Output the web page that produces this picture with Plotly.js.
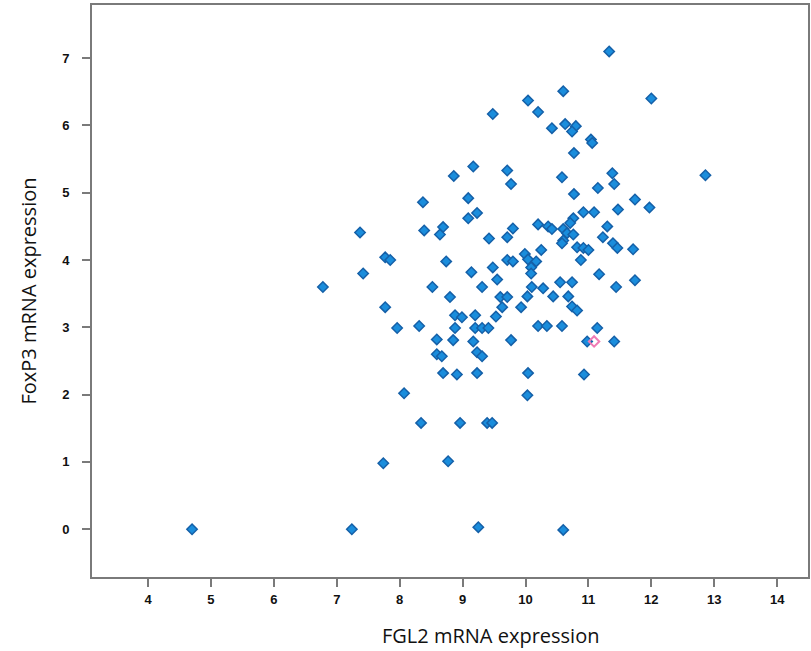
<!DOCTYPE html>
<html>
<head>
<meta charset="utf-8">
<script src="https://cdn.plot.ly/plotly-3.0.1.min.js"></script>
<style>html,body{margin:0;padding:0;background:#fff;}#chart{width:811px;height:651px;}</style>
</head>
<body>
<div id="chart"></div>
<script>
// FGL2 mRNA expression (x) vs FoxP3 mRNA expression (y)
const fgl2 = [
  11.33, 12.00, 10.60, 10.04, 10.20, 9.48, 10.42, 10.63, 10.80, 10.74,
  11.04, 11.06, 10.77, 10.58, 11.38, 11.41, 11.15, 10.77, 12.86, 11.74,
  11.97, 11.47, 10.92, 11.09, 10.76, 10.71, 10.20, 10.36, 10.42, 10.60,
  10.66, 10.76, 10.60, 10.58, 11.30, 11.23, 11.39, 11.46, 11.71, 10.82,
  10.92, 11.00, 10.88, 10.25, 9.99, 10.04, 10.17, 10.09, 10.09, 11.17,
  11.44, 11.74, 10.55, 10.74, 10.10, 10.28, 10.03, 10.44, 10.68, 10.74,
  10.82, 9.93, 10.20, 10.34, 10.58, 11.14, 10.98, 11.41, 10.93, 9.17,
  8.86, 9.71, 9.77, 8.37, 9.09, 9.09, 9.23, 7.37, 8.39, 8.69,
  8.64, 9.80, 9.71, 9.42, 7.77, 7.85, 8.74, 9.71, 9.80, 7.42,
  9.14, 9.48, 9.55, 6.78, 8.52, 9.31, 8.80, 9.60, 9.71, 7.77,
  9.63, 8.88, 8.99, 9.20, 9.53, 7.96, 8.31, 8.88, 9.20, 9.31,
  9.41, 8.59, 8.85, 9.17, 9.77, 8.59, 8.67, 9.23, 9.31, 8.69,
  8.91, 9.23, 10.04, 8.07, 10.03, 8.34, 8.96, 9.39, 9.47, 7.74,
  8.77, 4.70, 7.24, 9.25, 10.60
];
const foxp3 = [
  7.10, 6.40, 6.51, 6.37, 6.20, 6.17, 5.96, 6.02, 5.99, 5.91,
  5.79, 5.74, 5.59, 5.23, 5.29, 5.13, 5.07, 4.98, 5.26, 4.90,
  4.78, 4.75, 4.71, 4.71, 4.62, 4.55, 4.53, 4.50, 4.46, 4.46,
  4.40, 4.38, 4.29, 4.25, 4.50, 4.34, 4.25, 4.18, 4.16, 4.19,
  4.18, 4.15, 4.00, 4.15, 4.09, 4.01, 3.98, 3.89, 3.80, 3.79,
  3.60, 3.70, 3.67, 3.67, 3.60, 3.58, 3.46, 3.46, 3.46, 3.31,
  3.25, 3.30, 3.02, 3.02, 3.02, 2.99, 2.79, 2.79, 2.30, 5.39,
  5.25, 5.33, 5.13, 4.86, 4.92, 4.62, 4.70, 4.41, 4.44, 4.49,
  4.38, 4.47, 4.34, 4.32, 4.04, 4.00, 3.98, 4.00, 3.98, 3.80,
  3.82, 3.89, 3.71, 3.60, 3.60, 3.60, 3.45, 3.45, 3.45, 3.30,
  3.30, 3.18, 3.15, 3.18, 3.16, 2.99, 3.02, 2.99, 2.99, 2.99,
  2.99, 2.82, 2.81, 2.79, 2.81, 2.60, 2.57, 2.63, 2.57, 2.32,
  2.30, 2.32, 2.32, 2.02, 1.99, 1.58, 1.58, 1.58, 1.58, 0.98,
  1.01, 0.00, 0.00, 0.03, -0.01
];
// highlighted (pink) sample
const hiFgl2 = [11.09];
const hiFoxp3 = [2.79];

const xTicks = [4, 5, 6, 7, 8, 9, 10, 11, 12, 13, 14];
const yTicks = [0, 1, 2, 3, 4, 5, 6, 7];
const xTitle = 'FGL2 mRNA expression';
const yTitle = 'FoxP3 mRNA expression';

const traces = [
  {
    type: 'scatter', mode: 'markers', x: fgl2, y: foxp3,
    marker: {symbol: 'diamond', size: 8, color: '#1a8ddc', line: {color: '#1560a8', width: 1.5}},
    hoverinfo: 'x+y', showlegend: false
  },
  {
    type: 'scatter', mode: 'markers', x: hiFgl2, y: hiFoxp3,
    marker: {symbol: 'diamond-open', size: 8, color: '#f07ab4', line: {color: '#f07ab4', width: 2}},
    hoverinfo: 'x+y', showlegend: false
  }
];

const tickFont = {family: 'Liberation Sans', size: 13, color: '#111', weight: 700};
const titleFont = {family: 'Open Sans', size: 20, color: '#111'};

const layout = {
  width: 811, height: 651,
  margin: {l: 92, r: 3, t: 5, b: 74},
  paper_bgcolor: '#fff', plot_bgcolor: '#fff',
  xaxis: {
    range: [3.11, 14.49], tickvals: xTicks, ticktext: xTicks.map(String),
    showgrid: false, zeroline: false,
    showline: true, mirror: true, linecolor: '#7a7a7a', linewidth: 2,
    ticks: 'outside', ticklen: 8, tickwidth: 2, tickcolor: '#7a7a7a',
    tickfont: tickFont, ticklabelstandoff: 1
  },
  yaxis: {
    range: [-0.71, 7.79], tickvals: yTicks, ticktext: yTicks.map(String),
    showgrid: false, zeroline: false,
    showline: true, mirror: true, linecolor: '#7a7a7a', linewidth: 2,
    ticks: 'outside', ticklen: 8, tickwidth: 2, tickcolor: '#7a7a7a',
    tickfont: tickFont, ticklabelstandoff: 10,
    title: {text: yTitle, font: titleFont, standoff: 20}
  },
  annotations: [{
    text: xTitle, xref: 'paper', yref: 'paper',
    x: 0.557, y: -0.103, xanchor: 'center', yanchor: 'middle',
    showarrow: false, font: titleFont
  }]
};

Plotly.newPlot('chart', traces, layout, {displayModeBar: false, staticPlot: true});
</script>
</body>
</html>
